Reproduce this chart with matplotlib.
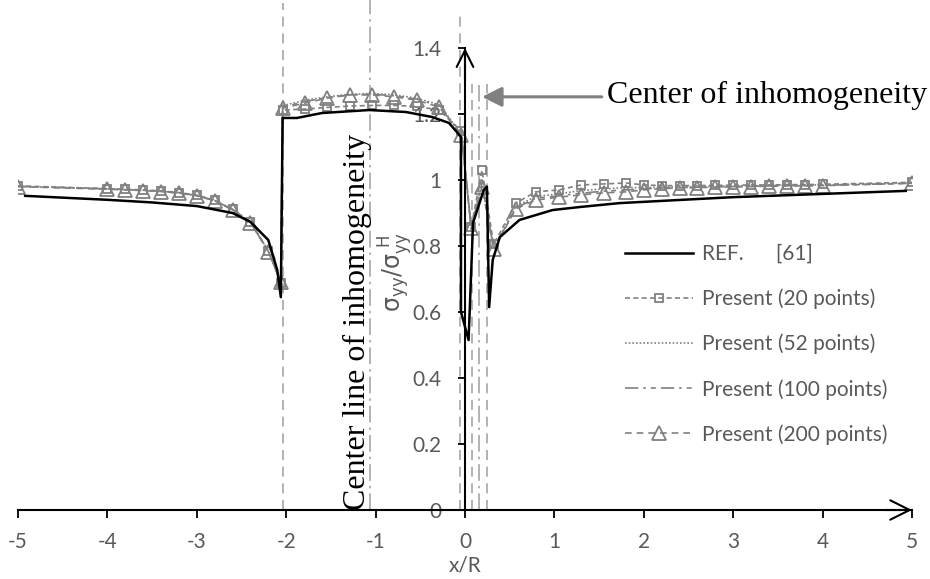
import matplotlib
matplotlib.use("Agg")
import matplotlib.pyplot as plt

# fonts
plt.rcParams['font.family'] = ['Lato', 'DejaVu Sans']
plt.rcParams['mathtext.fontset'] = 'dejavusans'

# data
x_ref = [-4.92, -4.0, -3.5, -3.0, -2.6, -2.4, -2.2, -2.1, -2.06, -2.04, -1.88, -1.6, -1.07,
         -0.66, -0.37, -0.18, -0.09, -0.045, -0.045, 0.04, 0.09, 0.21, 0.245, 0.27, 0.31,
         0.39, 0.61, 0.98, 1.28, 1.73, 3.0, 4.93]
y_ref = [0.952, 0.94, 0.932, 0.921, 0.900, 0.873, 0.818, 0.727, 0.645, 1.188, 1.188, 1.203, 1.212,
         1.206, 1.191, 1.173, 1.145, 1.13, 0.60, 0.515, 0.87, 0.97, 0.98, 0.615, 0.758,
         0.827, 0.879, 0.909, 0.918, 0.930, 0.948, 0.967]

x_pts = [-5, -4, -3.8, -3.6, -3.4, -3.2, -3.0, -2.8, -2.6, -2.4, -2.2, -2.06,
         -2.04, -1.79, -1.54, -1.29, -1.04, -0.79, -0.54, -0.29, -0.04,
         0.07, 0.19, 0.32,
         0.57, 0.79, 1.05, 1.3, 1.55, 1.8, 2.0, 2.2, 2.4, 2.6, 2.8, 3.0, 3.2, 3.4, 3.6, 3.8, 4.0, 5.0]

y_20 = [0.982, 0.974, 0.972, 0.970, 0.967, 0.962, 0.954, 0.939, 0.911, 0.873, 0.786, 0.688,
        1.212, 1.215, 1.220, 1.224, 1.226, 1.226, 1.223, 1.212, 1.148,
        0.858, 1.03, 0.805,
        0.93, 0.964, 0.970, 0.985, 0.988, 0.991, 0.985, 0.983, 0.983, 0.983, 0.984, 0.984,
        0.985, 0.985, 0.986, 0.986, 0.987, 0.993]
y_52 = [0.981, 0.973, 0.971, 0.969, 0.966, 0.961, 0.953, 0.938, 0.910, 0.872, 0.785, 0.690,
        1.225, 1.242, 1.252, 1.260, 1.262, 1.258, 1.248, 1.228, 1.140,
        0.850, 1.00, 0.795,
        0.92, 0.950, 0.958, 0.968, 0.973, 0.977, 0.977, 0.978, 0.979, 0.980, 0.981, 0.982,
        0.983, 0.983, 0.984, 0.985, 0.985, 0.991]
y_100 = [0.981, 0.973, 0.971, 0.969, 0.966, 0.961, 0.953, 0.938, 0.910, 0.872, 0.784, 0.691,
         1.220, 1.238, 1.250, 1.258, 1.260, 1.255, 1.245, 1.225, 1.138,
         0.852, 0.99, 0.792,
         0.915, 0.945, 0.952, 0.960, 0.966, 0.970, 0.973, 0.976, 0.977, 0.978, 0.979, 0.980,
         0.981, 0.982, 0.983, 0.983, 0.984, 0.990]
y_200 = [0.980, 0.972, 0.970, 0.968, 0.965, 0.960, 0.952, 0.937, 0.909, 0.871, 0.783, 0.692,
         1.218, 1.233, 1.248, 1.258, 1.258, 1.252, 1.242, 1.221, 1.136,
         0.855, 0.98, 0.79,
         0.913, 0.939, 0.948, 0.955, 0.961, 0.964, 0.970, 0.974, 0.976, 0.977, 0.978, 0.979,
         0.980, 0.981, 0.982, 0.982, 0.983, 0.990]

labels = ["REF.      [61]", "Present (20 points)", "Present (52 points)",
          "Present (100 points)", "Present (200 points)"]

# vertical guide lines: x, top, style
vl_x = [-2.04, -1.06, -0.056, 0.078, 0.157, 0.246]
vl_top = [1.535, 1.545, 1.50, 1.29, 1.29, 1.29]
vl_dash = [(0, (6, 4)), (0, (10, 3, 1.5, 3)), (0, (6, 4)), (0, (6, 4)), (0, (10, 3, 1.5, 3)), (0, (6, 4))]

xticks = [-5, -4, -3, -2, -1, 0, 1, 2, 3, 4, 5]
xtick_labels = ["-5", "-4", "-3", "-2", "-1", "0", "1", "2", "3", "4", "5"]
yticks = [0, 0.2, 0.4, 0.6, 0.8, 1.0, 1.2, 1.4]
ytick_labels = ["0", "0.2", "0.4", "0.6", "0.8", "1", "1.2", "1.4"]

gray = '#808080'
txt = '#595959'
fs = 15

fig = plt.figure(figsize=(9.3, 5.79), dpi=100)
ax = fig.add_axes([18 / 930, 69 / 579, 894 / 930, 510 / 579])
ax.set_xlim(-5, 5)
ax.set_ylim(0, 510 / 330)

for x, top, ls in zip(vl_x, vl_top, vl_dash):
    ax.plot([x, x], [0, top], color='#A6A6A6', lw=1.2, linestyle=ls, zorder=1)

ax.plot(x_ref, y_ref, color='black', lw=1.8, label=labels[0], zorder=5)
ax.plot(x_pts, y_20, color=gray, lw=1.2, linestyle=(0, (3, 2)), marker='s', ms=6,
        mfc='none', mec=gray, mew=1.3, label=labels[1], zorder=3)
ax.plot(x_pts, y_52, color=gray, lw=1.2, linestyle=(0, (1, 1.2)), label=labels[2], zorder=3)
ax.plot(x_pts, y_100, color=gray, lw=1.2, linestyle=(0, (8, 3, 1.5, 3, 3, 3)),
        label=labels[3], zorder=3)
ax.plot(x_pts, y_200, color=gray, lw=1.2, linestyle=(0, (4, 3)), marker='^', ms=10,
        mfc='none', mec=gray, mew=1.3, label=labels[4], zorder=3)

# axes
for s in ['top', 'right']:
    ax.spines[s].set_visible(False)
ax.spines['left'].set_position(('data', 0))
ax.spines['left'].set_bounds(0, 1.4)
ax.spines['left'].set_linewidth(1.5)
ax.spines['bottom'].set_linewidth(1.5)
ax.spines['left'].set_zorder(6)

ax.set_xticks(xticks, xtick_labels)
ax.set_yticks(yticks, ytick_labels)
ax.tick_params(axis='x', direction='out', length=6, width=1.3, pad=10, labelsize=fs, labelcolor=txt)
ax.tick_params(axis='y', direction='out', length=5, width=1.3, pad=12, labelsize=fs, labelcolor=txt)

ax.annotate('', xy=(5, 0), xytext=(4.7, 0), annotation_clip=False,
            arrowprops=dict(arrowstyle='->,head_length=0.7,head_width=0.35', lw=1.5,
                            color='black', mutation_scale=20, shrinkA=0, shrinkB=0))
ax.annotate('', xy=(0, 1.4), xytext=(0, 1.3), annotation_clip=False,
            arrowprops=dict(arrowstyle='->,head_length=0.6,head_width=0.3', lw=1.5,
                            color='black', mutation_scale=20, shrinkA=0, shrinkB=0))

fig.text(465 / 930, 1 - 566 / 579, 'x/R', ha='center', va='center', fontsize=fs, color=txt)
ax.text(-0.78, 0.72, r'$\mathrm{\sigma_{yy}/\sigma_{yy}^{\ H}}$', rotation=90,
        ha='center', va='center', fontsize=17, color=txt)

# annotations
ax.text(-1.119, 0.0, 'Center line of inhomogeneity', rotation=90, rotation_mode='anchor',
        ha='left', va='baseline', fontsize=23, family='Liberation Serif', color='black')
ax.annotate('', xy=(0.19, 1.252), xytext=(1.53, 1.252),
            arrowprops=dict(arrowstyle='-|>,head_length=0.6,head_width=0.3', lw=2.2,
                            color=gray, mutation_scale=20, shrinkA=0, shrinkB=0))
ax.text(1.59, 1.233, 'Center of inhomogeneity', ha='left', va='baseline',
        fontsize=23, family='Liberation Serif', color='black')

ax.legend(loc='upper left', bbox_to_anchor=(625 / 930, (579 - 244) / 579),
          bbox_transform=fig.transFigure, frameon=False, borderpad=0, borderaxespad=0,
          handlelength=3.27, handletextpad=0.43, labelspacing=1.18, fontsize=fs,
          labelcolor=txt)

fig.savefig('out.png', dpi=100)
